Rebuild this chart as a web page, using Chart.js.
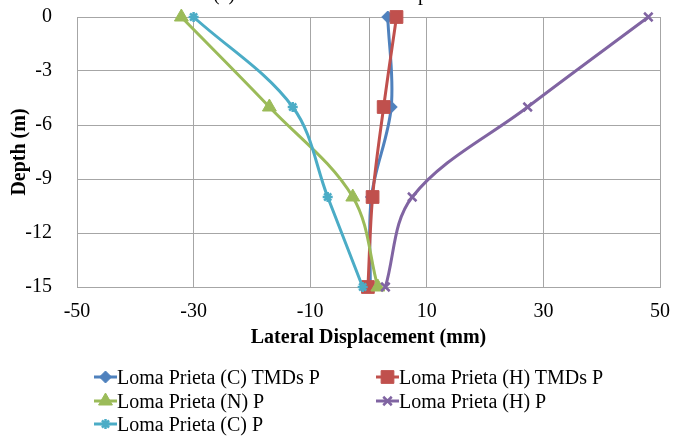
<!DOCTYPE html>
<html>
<head>
<meta charset="utf-8">
<script src="https://cdn.jsdelivr.net/npm/chart.js@4.4.0/dist/chart.umd.min.js"></script>
<style>
  html, body { margin: 0; padding: 0; background: #fff; }
  #wrap { position: relative; width: 673px; height: 441px; overflow: hidden; }
  #chart { position: absolute; left: 0; top: 0; }
  .leg { position: absolute; font-family: 'Liberation Serif', 'Times New Roman', serif; font-size: 20px; color: #000; white-space: nowrap; height: 24px; line-height: 24px; }
  .leg canvas { vertical-align: top; }
</style>
</head>
<body>
<div id="wrap">
  <canvas id="chart" width="673" height="441"></canvas>
  <div id="legend"></div>
</div>
<script>
// depth of each measuring point (m)
const depths = [0, -5, -10, -15];

// lateral displacement (mm) per record
const cTmds = [3.3, 3.9, 0.5, 0.3];
const hTmds = [4.8, 2.6, 0.7, -0.1];
const nPile = [-32.1, -17, -2.7, 1.6];
const hPile = [48, 27.3, 7.5, 2.9];
const cPile = [-30, -13, -7, -1];

const xTicks = [-50, -30, -10, 10, 30, 50];
const yTicks = [0, -3, -6, -9, -12, -15];

const serif = "'Liberation Serif', 'Times New Roman', serif";

function pts(xs) {
    return xs.map((x, i) => ({ x: x, y: depths[i] }));
}

const series = [
    { label: 'Loma Prieta (C) TMDs P', data: cTmds, color: '#4f81bd', style: 'rectRot', r: 6, order: 4 },
    { label: 'Loma Prieta (H) TMDs P', data: hTmds, color: '#c0504d', style: 'rect', r: 9, order: 3 },
    { label: 'Loma Prieta (N) P', data: nPile, color: '#9bbb59', style: 'triangle', r: 8, order: 2 },
    { label: 'Loma Prieta (H) P', data: hPile, color: '#8064a2', style: 'crossRot', r: 6, order: 1 },
    { label: 'Loma Prieta (C) P', data: cPile, color: '#4bacc6', style: 'star', r: 5, order: 0 }
];

// vertical axis line at x = 0 and the clipped title at the very top
const extras = {
    id: 'extras',
    beforeDatasetsDraw(chart) {
        const ctx = chart.ctx;
        const x0 = chart.scales.x.getPixelForValue(0);
        ctx.save();
        ctx.strokeStyle = '#a0a0a0';
        ctx.lineWidth = 1;
        ctx.beginPath();
        ctx.moveTo(Math.round(x0) + 0.5, chart.chartArea.top);
        ctx.lineTo(Math.round(x0) + 0.5, chart.chartArea.bottom);
        ctx.stroke();
        ctx.restore();
    },
    afterDraw(chart) {
        const ctx = chart.ctx;
        ctx.save();
        ctx.fillStyle = '#000';
        ctx.font = '20px ' + serif;
        ctx.textBaseline = 'alphabetic';
        ctx.fillText('(c) Maximum Lateral Displacement', 213, 0);
        ctx.restore();
    }
};

const ctx = document.getElementById('chart').getContext('2d');
const chart = new Chart(ctx, {
    type: 'scatter',
    data: {
        datasets: series.map(s => ({
            label: s.label,
            data: pts(s.data),
            showLine: true,
            tension: 0.35,
            borderColor: s.color,
            backgroundColor: s.color,
            borderWidth: 3,
            pointStyle: s.style,
            pointRadius: s.r,
            pointHoverRadius: s.r,
            pointBorderColor: s.color,
            pointBackgroundColor: s.color,
            pointBorderWidth: (s.style === 'crossRot' || s.style === 'star') ? 2.5 : 1,
            order: s.order,
            clip: false
        }))
    },
    options: {
        responsive: false,
        animation: false,
        layout: { padding: { left: 0, top: 17, right: 13, bottom: 91 } },
        plugins: {
            legend: { display: false },
            tooltip: { enabled: false }
        },
        scales: {
            x: {
                type: 'linear',
                min: -50,
                max: 50,
                afterBuildTicks: axis => { axis.ticks = xTicks.map(v => ({ value: v })); },
                afterFit: axis => { axis.height = 63; axis.paddingLeft = 0; axis.paddingRight = 0; },
                grid: { color: '#a6a6a6', drawTicks: false },
                border: { color: '#a6a6a6' },
                ticks: { font: { family: serif, size: 20 }, color: '#000', padding: 13 },
                title: {
                    display: true,
                    text: 'Lateral Displacement (mm)',
                    font: { family: serif, size: 20, weight: 'bold' },
                    color: '#000',
                    padding: { top: 0, bottom: 0 }
                }
            },
            y: {
                type: 'linear',
                min: -15,
                max: 0,
                afterBuildTicks: axis => { axis.ticks = yTicks.map(v => ({ value: v })); },
                afterFit: axis => { axis.width = 77; axis.paddingTop = 0; axis.paddingBottom = 0; },
                grid: { color: '#a6a6a6', drawTicks: false },
                border: { color: '#a6a6a6' },
                ticks: { font: { family: serif, size: 20 }, color: '#000', padding: 25 },
                title: {
                    display: true,
                    text: 'Depth (m)',
                    font: { family: serif, size: 20, weight: 'bold' },
                    color: '#000',
                    padding: { top: 8, bottom: 0 }
                }
            }
        }
    },
    plugins: [extras]
});

// legend in two columns below the plot
const legendPos = [[94, 365], [376, 365], [94, 389], [376, 389], [94, 412]];
const legend = document.getElementById('legend');
series.forEach((s, i) => {
    const item = document.createElement('div');
    item.className = 'leg';
    item.style.left = legendPos[i][0] + 'px';
    item.style.top = legendPos[i][1] + 'px';
    const c = document.createElement('canvas');
    c.width = 23;
    c.height = 24;
    const g = c.getContext('2d');
    g.strokeStyle = s.color;
    g.lineWidth = 3;
    g.beginPath();
    g.moveTo(0, 12);
    g.lineTo(23, 12);
    g.stroke();
    g.fillStyle = s.color;
    g.lineWidth = (s.style === 'crossRot' || s.style === 'star') ? 2.5 : 1;
    Chart.helpers.drawPoint(g, { pointStyle: s.style, radius: s.r, rotation: 0, borderWidth: g.lineWidth }, 11.5, 12);
    item.appendChild(c);
    item.appendChild(document.createTextNode(s.label));
    legend.appendChild(item);
});
</script>
</body>
</html>
